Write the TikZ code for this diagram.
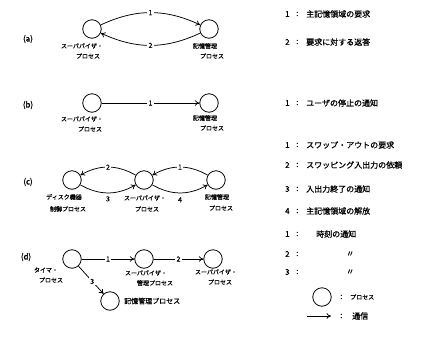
\documentclass[tikz,border=0pt]{standalone}
\usepackage{fontspec}
\setmainfont[FakeBold=0.8,AutoFakeBold=0.8]{Noto Sans CJK JP}
\usetikzlibrary{arrows.meta}
\begin{document}
\begin{tikzpicture}[x=1pt,y=1pt,
  proc/.style={circle,draw,line width=0.8pt,minimum size=18.5pt,inner sep=0pt},
  msg/.style={-{To[length=4.5pt,width=5.5pt]},line width=0.75pt},
  num/.style={fill=white,inner sep=1.5pt,font=\fontsize{7}{7}\selectfont},
  numfree/.style={inner sep=1pt,font=\fontsize{7}{7}\selectfont},
  lbl/.style={font=\fontsize{6}{7}\selectfont\bfseries,inner sep=0pt},
  leg/.style={anchor=west,font=\fontsize{8}{9}\selectfont\bfseries,inner sep=0pt},
  legs/.style={anchor=west,font=\fontsize{6}{7}\selectfont\bfseries,inner sep=0pt},
  part/.style={font=\fontsize{8}{9}\selectfont\bfseries,inner sep=0pt}]
\useasboundingbox (0,0) rectangle (426,-341);

% ---------- (a) ----------
\node[part] (pa) at (28,-39) {(a)};
\node[proc] (A1) at (92,-29) {};
\node[proc] (A2) at (209,-29) {};
\draw[msg] (A1) to[bend left=25] node[num] (na1) {1} (A2);
\draw[msg] (A2) to[bend left=25] node[num] (na2) {2} (A1);
\node[lbl] (A1a) at (82,-46) {スーパバイザ・};
\node[lbl] (A1b) at (88,-56) {プロセス};
\node[lbl] (A2a) at (205,-46) {記憶管理};
\node[lbl] (A2b) at (212,-56) {プロセス};

% ---------- (b) ----------
\node[part] (pb) at (28,-105) {(b)};
\node[proc] (B1) at (92,-103) {};
\node[proc] (B2) at (209,-103) {};
\draw[msg] (B1) -- node[num] (nb1) {1} (B2);
\node[lbl] (B1a) at (82,-119) {スーパバイザ・};
\node[lbl] (B1b) at (90,-129) {プロセス};
\node[lbl] (B2a) at (205,-118) {記憶管理};
\node[lbl] (B2b) at (212,-128) {プロセス};

% ---------- (c) ----------
\node[part] (pc) at (28,-182) {(c)};
\node[proc] (C1) at (72,-180) {};
\node[proc] (C2) at (144,-180) {};
\node[proc] (C3) at (216,-180) {};
\draw[msg] (C3) to[bend right=30] node[num] (nc1) {1} (C2);
\draw[msg] (C2) to[bend right=30] node[num] (nc2) {2} (C1);
\draw[msg] (C1) to[bend right=30] node[numfree,below=2pt] (nc3) {3} (C2);
\draw[msg] (C2) to[bend right=30] node[numfree,below=3pt] (nc4) {4} (C3);
\node[lbl] (C1a) at (64,-197) {ディスク機器};
\node[lbl] (C1b) at (68,-209) {制御プロセス};
\node[lbl] (C2a) at (145,-198) {スーパバイザ・};
\node[lbl] (C2b) at (147,-209) {プロセス};
\node[lbl] (C3a) at (217,-197) {記憶管理};
\node[lbl] (C3b) at (221,-208) {プロセス};

% ---------- (d) ----------
\node[part] (pd) at (26,-257) {(d)};
\node[proc] (D1) at (72,-259) {};
\node[proc] (D2) at (144,-259) {};
\node[proc] (D3) at (213,-259) {};
\node[proc] (D4) at (110,-301) {};
\draw[msg] (D1) -- node[num] (nd1) {1} (D2);
\draw[msg] (D2) -- node[num] (nd2) {2} (D3);
\draw[msg] (D1) -- node[num,pos=0.55] (nd3) {3} (D4);
\node[lbl] (D1a) at (46,-270) {タイマ・};
\node[lbl] (D1b) at (51,-280) {プロセス};
\node[lbl] (D2a) at (146,-273) {スーパバイザ・};
\node[lbl] (D2b) at (155,-283) {管理プロセス};
\node[lbl] (D3a) at (216,-272) {スーパバイザ・};
\node[lbl] (D3b) at (220,-282) {プロセス};
\node[anchor=west,font=\fontsize{7}{8}\selectfont\bfseries,inner sep=0pt] (D4a) at (124,-301) {記憶管理プロセス};

% ---------- legends ----------
\foreach \n/\y/\x/\t [count=\i] in {
    1/14/306/主記憶領域の要求,
    2/42/306/要求に対する返答,
    1/103/306/ユーザの停止の通知,
    1/145/306/スワップ・アウトの要求,
    2/165/306/スワッピング入出力の依頼,
    3/189/306/入出力終了の通知,
    4/211/306/主記憶領域の解放,
    1/234/316/時刻の通知}{
  \node[leg] (ln\i) at (285,-\y) {\n};
  \node[leg] (lc\i) at (296,-\y) {:};
  \node[leg] (lt\i) at (\x,-\y) {\t};
}
\node[leg] (ln9) at (285,-254) {2};
\node[leg] (lc9) at (296,-254) {:};
\node[leg] (lt9) at (346,-254) {〃};
\node[leg] (ln10) at (285,-272) {3};
\node[leg] (lc10) at (296,-272) {:};
\node[leg] (lt10) at (346,-272) {〃};

\node[proc] (lp) at (322,-297) {};
\node[leg] (lpc) at (340,-297) {:};
\node[legs] (lpt) at (350,-297) {プロセス};
\coordinate (la0) at (307,-316);
\coordinate (la1) at (331,-316);
\draw[msg] (la0) -- (la1);
\node[leg] (lac) at (340,-316) {:};
\node[leg] (lat) at (352,-316) {通信};
\end{tikzpicture}
\end{document}
